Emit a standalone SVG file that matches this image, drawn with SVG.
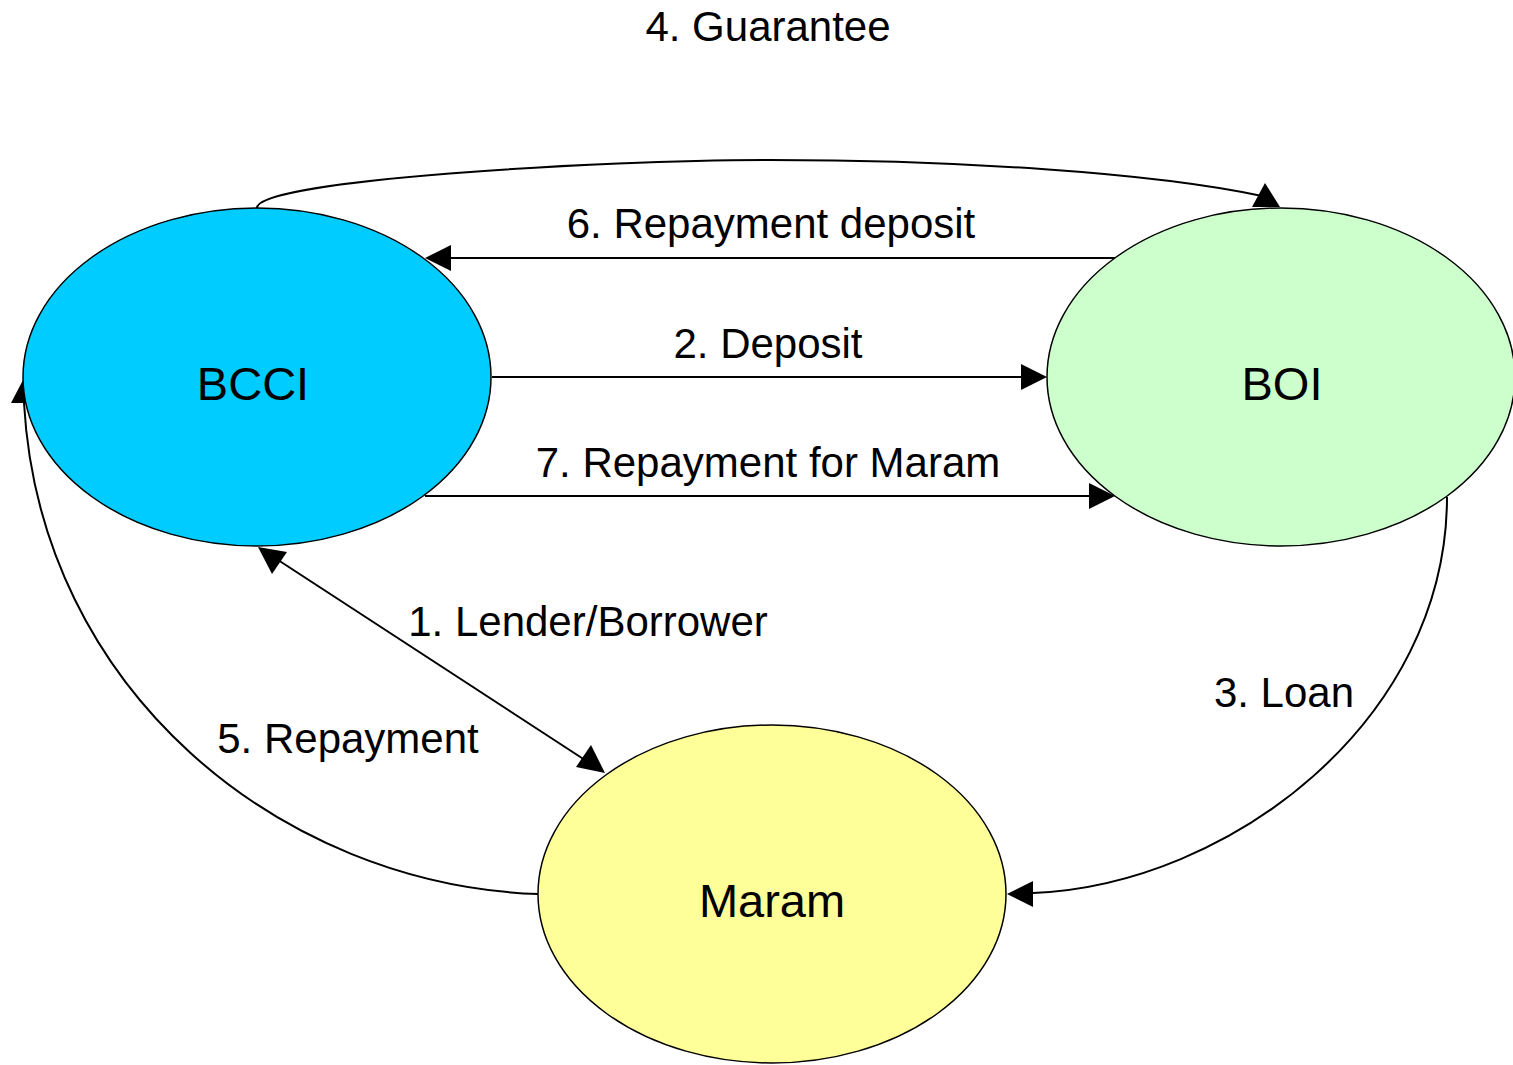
<svg xmlns="http://www.w3.org/2000/svg" width="1513" height="1065" viewBox="0 0 1513 1065">
<style>
.node{stroke:#000;stroke-width:1.5}
.edge{fill:none;stroke:#000;stroke-width:2}
.head{fill:#000;stroke:none}
.lbl{font-family:"Liberation Sans",Arial,sans-serif;font-size:42px;fill:#000;text-anchor:middle}
.nlbl{font-family:"Liberation Sans",Arial,sans-serif;font-size:47px;fill:#000;text-anchor:middle}
</style>
<rect width="1513" height="1065" fill="#fff"/>
<g id="edges">
<g id="e4"><path class="edge" d="M257,208 C257,180 600,160 770,160 C950,160 1150,172 1262,196"/><polygon class="head" points="1265,183 1252,207 1280,207"/><text class="lbl" x="768" y="41">4. Guarantee</text></g>
<g id="e6"><line class="edge" x1="1115" y1="258" x2="448" y2="258"/><polygon class="head" points="425,258 451,245 451,271"/><text class="lbl" x="771" y="238">6. Repayment deposit</text></g>
<g id="e2"><line class="edge" x1="492" y1="377" x2="1022" y2="377"/><polygon class="head" points="1047,377 1021,364 1021,390"/><text class="lbl" x="768" y="358">2. Deposit</text></g>
<g id="e7"><line class="edge" x1="425" y1="496" x2="1090" y2="496"/><polygon class="head" points="1115,496 1089,483 1089,509"/><text class="lbl" x="768" y="477">7. Repayment for Maram</text></g>
<g id="e1"><line class="edge" x1="275" y1="558" x2="588" y2="762"/><polygon class="head" points="258,547 287,552 272,574"/><polygon class="head" points="605,773 576,767 591,745"/><text class="lbl" x="588" y="636">1. Lender/Borrower</text></g>
<g id="e3"><path class="edge" d="M1447,497 C1447,720 1230,885 1033,893"/><polygon class="head" points="1007,894 1033,881 1033,907"/><text class="lbl" x="1284" y="707">3. Loan</text></g>
<g id="e5"><path class="edge" d="M538,894 C280,885 40,690 24,403"/><polygon class="head" points="23,380 11,403 37,403"/><text class="lbl" x="348" y="753">5. Repayment</text></g>
</g>
<g id="BCCI"><ellipse class="node" cx="257" cy="377" rx="234" ry="169" fill="#00CCFF"/><text class="nlbl" x="253" y="400">BCCI</text></g>
<g id="BOI"><ellipse class="node" cx="1281" cy="377" rx="234" ry="169" fill="#CCFFCC"/><text class="nlbl" x="1282" y="400">BOI</text></g>
<g id="Maram"><ellipse class="node" cx="772" cy="894" rx="234" ry="169" fill="#FFFF99"/><text class="nlbl" x="772" y="917">Maram</text></g>
</svg>
